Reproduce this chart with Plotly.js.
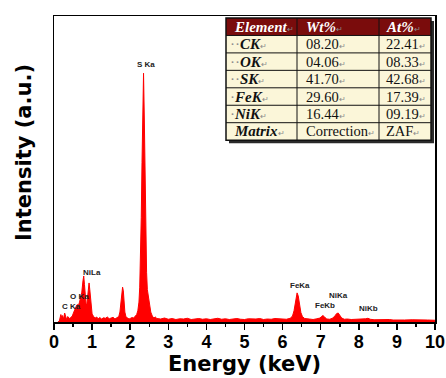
<!DOCTYPE html>
<html>
<head>
<meta charset="utf-8">
<script src="https://cdn.plot.ly/plotly-3.0.1.min.js"></script>
<style>html,body{margin:0;padding:0;background:#fff;}#chart{width:446px;height:378px;}</style>
</head>
<body>
<div id="chart"></div>
<script>
// EDS spectrum (energy in keV, counts in arbitrary units)
const energy = [0.10,0.14,0.18,0.20,0.22,0.25,0.28,0.30,0.33,0.36,0.40,0.44,0.48,0.52,0.55,0.58,0.61,0.64,0.67,0.70,0.73,0.76,0.78,0.80,0.82,0.84,0.86,0.88,0.90,0.92,0.94,0.96,0.98,1.00,1.04,1.08,1.12,1.16,1.20,1.25,1.30,1.35,1.40,1.45,1.50,1.55,1.60,1.65,1.70,1.73,1.76,1.78,1.80,1.82,1.84,1.86,1.89,1.93,1.97,2.01,2.05,2.09,2.13,2.17,2.20,2.23,2.25,2.27,2.29,2.31,2.33,2.35,2.37,2.39,2.41,2.43,2.45,2.47,2.49,2.51,2.54,2.58,2.62,2.66,2.70,2.8,2.9,3.0,3.1,3.2,3.3,3.4,3.5,3.6,3.7,3.8,3.9,4.0,4.1,4.2,4.3,4.4,4.5,4.6,4.7,4.8,4.9,5.0,5.1,5.2,5.3,5.4,5.5,5.6,5.7,5.8,5.9,6.0,6.1,6.2,6.26,6.30,6.34,6.38,6.41,6.44,6.48,6.52,6.58,6.7,6.8,6.9,6.98,7.02,7.06,7.10,7.16,7.24,7.32,7.38,7.42,7.46,7.50,7.55,7.62,7.7,7.8,7.9,8.0,8.1,8.18,8.24,8.30,8.4,8.5,8.6,8.7,8.8,8.9,9.0,9.2,9.4,9.6,9.8,10.0];
const counts = [0,4,30,18,26,12,36,20,10,22,14,18,24,40,55,62,70,66,80,95,120,165,185,150,105,75,68,95,135,157,130,85,50,32,22,16,20,13,18,12,17,15,20,13,16,19,12,16,22,40,80,120,140,125,80,40,20,14,12,15,18,16,22,30,45,80,140,260,420,640,860,1000,820,560,340,200,130,105,95,70,40,24,16,20,14,12,16,11,14,10,13,12,15,10,12,14,11,13,10,12,15,11,13,10,12,14,11,10,13,11,12,14,10,12,11,14,12,13,11,15,24,45,85,117,105,70,38,22,14,12,10,13,16,22,26,20,12,11,16,26,34,36,28,16,11,12,10,11,9,11,13,15,11,9,10,8,9,10,8,9,8,9,7,8,7];

// Peak labels
const peakNames = ["S Ka","NiLa","O Ka","C Ka","FeKa","FeKb","NiKa","NiKb"];
const peakX = [2.42,0.99,0.66,0.47,6.45,7.12,7.48,8.26];
const peakY = [1037,197,104,64,145,68,108,56];

// Quantification table
const elements = ["Element","CK","OK","SK","FeK","NiK","Matrix"];
const wtPct = ["Wt%","08.20","04.06","41.70","29.60","16.44","Correction"];
const atPct = ["At%","22.41","08.33","42.68","17.39","09.19","ZAF"];

// ---- geometry helpers (pixel -> paper) ----
const W = 446, H = 378, ML = 54, MR = 11, MT = 16, MB = 56;
const PW = W - ML - MR, PH = H - MT - MB;
const px = v => (v - ML) / PW;
const py = v => (H - MB - v) / PH;

const colEdges = [226, 297, 379, 431];
const tableTop = 18, rowH = 17.45;
const nRows = elements.length;
const rowEdge = i => tableTop + i * rowH;

const mark = '<span style="font-size:8px;color:#8a8a8a">↵</span>';
const dots = n => '<span style="color:#8a8a8a">' + '·'.repeat(n) + '</span>';

const shapes = [];
const annotations = [];

// shadow
shapes.push({type: 'rect', xref: 'paper', yref: 'paper',
  x0: px(colEdges[0] + 3), x1: px(colEdges[3] + 3), y0: py(rowEdge(nRows) + 3), y1: py(tableTop + 3),
  fillcolor: '#2a2a2a', line: {width: 0}});
// body
shapes.push({type: 'rect', xref: 'paper', yref: 'paper',
  x0: px(colEdges[0]), x1: px(colEdges[3]), y0: py(rowEdge(nRows)), y1: py(rowEdge(1)),
  fillcolor: '#fbf6d9', line: {width: 0}});
// header
shapes.push({type: 'rect', xref: 'paper', yref: 'paper',
  x0: px(colEdges[0]), x1: px(colEdges[3]), y0: py(rowEdge(1)), y1: py(tableTop),
  fillcolor: '#7a0c0c', line: {width: 0}});
// grid lines
for (let i = 1; i < nRows; i++) {
  shapes.push({type: 'line', xref: 'paper', yref: 'paper',
    x0: px(colEdges[0]), x1: px(colEdges[3]), y0: py(rowEdge(i)), y1: py(rowEdge(i)),
    line: {color: '#111', width: 1}});
}
for (let j = 1; j < colEdges.length - 1; j++) {
  shapes.push({type: 'line', xref: 'paper', yref: 'paper',
    x0: px(colEdges[j]), x1: px(colEdges[j]), y0: py(rowEdge(nRows)), y1: py(tableTop),
    line: {color: '#111', width: 1}});
}
// outer border
shapes.push({type: 'rect', xref: 'paper', yref: 'paper',
  x0: px(colEdges[0]), x1: px(colEdges[3]), y0: py(rowEdge(nRows)), y1: py(tableTop),
  line: {color: '#111', width: 1.5}});

// cell texts
const columns = [elements, wtPct, atPct];
const padL = [6, 7, 5];
columns.forEach((col, j) => {
  col.forEach((val, i) => {
    let txt, color = '#111';
    if (i === 0) { txt = '<b><i>' + val + '</i></b>' + mark; color = '#ffffff'; }
    else if (j === 0) {
      const d = i <= 3 ? dots(2) : (i <= 5 ? dots(1) : '');
      txt = d + '<b><i>' + val + '</i></b>' + mark;
    } else { txt = val + mark; }
    annotations.push({xref: 'paper', yref: 'paper',
      x: px(colEdges[j] + padL[j] - (j === 0 && i > 0 && i <= 5 ? 4 : 0)),
      y: py(rowEdge(i) + rowH / 2),
      xanchor: 'left', yanchor: 'middle', showarrow: false, text: txt,
      font: {family: 'Liberation Serif', size: i === 0 || j === 0 ? 15 : 14.5, color: color}});
  });
});

// peak labels
peakNames.forEach((n, i) => annotations.push({
  x: peakX[i], y: peakY[i], xref: 'x', yref: 'y', text: '<b>' + n + '</b>',
  showarrow: false, font: {family: 'Liberation Sans', size: 8, color: '#222'}
}));

// y-axis title
annotations.push({xref: 'paper', yref: 'paper', x: px(24), y: py(153),
  xanchor: 'center', yanchor: 'middle', textangle: -90, showarrow: false,
  text: '<b>Intensity (a.u.)</b>',
  font: {family: 'DejaVu Sans', size: 21, color: '#000'}});

const spectrum = {
  type: 'scatter', mode: 'lines', x: energy, y: counts,
  fill: 'tozeroy', fillcolor: '#ff0000',
  line: {color: '#ff0000', width: 1}, hoverinfo: 'skip', showlegend: false
};

const layout = {
  width: W, height: H,
  margin: {l: ML, r: MR, t: MT, b: MB},
  paper_bgcolor: '#ffffff', plot_bgcolor: '#ffffff',
  showlegend: false,
  xaxis: {
    range: [0, 10], dtick: 1, tick0: 0,
    ticks: 'outside', ticklen: 6, tickwidth: 1.5, tickcolor: '#000',
    minor: {dtick: 0.5, ticks: 'outside', ticklen: 3, tickwidth: 1.5, tickcolor: '#000'},
    showline: true, linecolor: '#000', linewidth: 1.5, mirror: true,
    showgrid: false, zeroline: false, ticklabelstandoff: -3,
    tickfont: {family: 'Liberation Sans', size: 18, color: '#000', weight: 'bold'},
    title: {text: 'Energy (keV)', standoff: 0, font: {family: 'DejaVu Sans', size: 21, color: '#000', weight: 'bold'}}
  },
  yaxis: {
    range: [0, 1230], showticklabels: false, ticks: '',
    showline: true, linecolor: '#000', linewidth: 1.5, mirror: true,
    showgrid: false, zeroline: false
  },
  shapes: shapes,
  annotations: annotations
};

Plotly.newPlot('chart', [spectrum], layout, {displayModeBar: false, staticPlot: true});
</script>
</body>
</html>
